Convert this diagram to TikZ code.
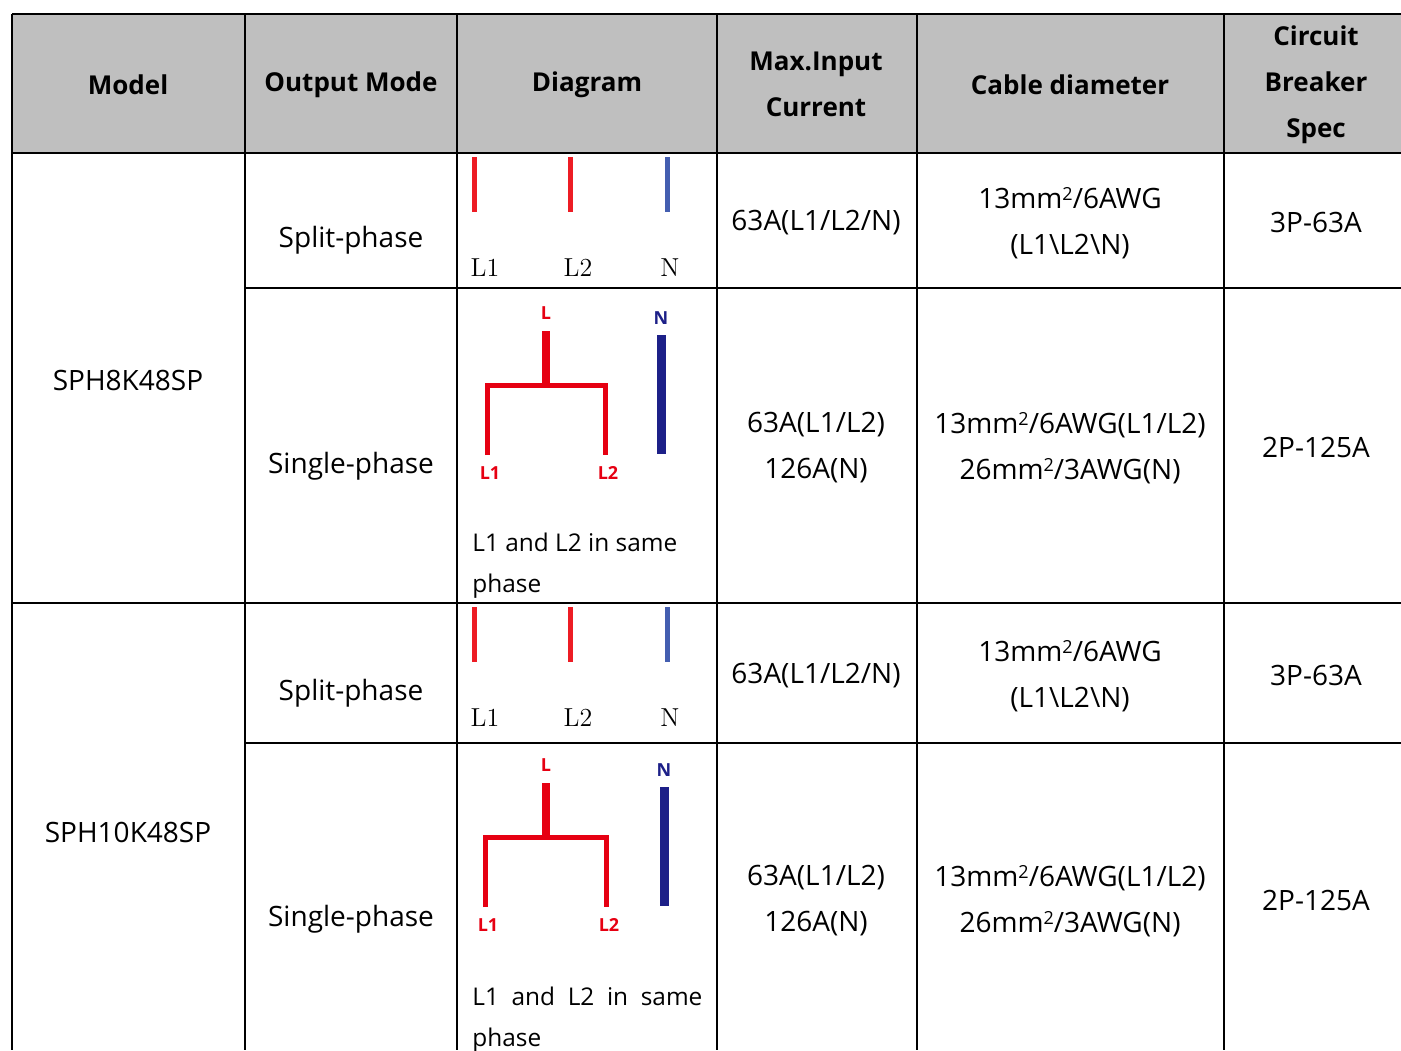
\documentclass[tikz,border=0pt]{standalone}
\usepackage{fontspec}
\setsansfont{Open Sans}
\usetikzlibrary{positioning}

\definecolor{headgray}{RGB}{191,191,191}
\definecolor{barred}{RGB}{237,28,36}
\definecolor{barblue}{RGB}{68,94,176}
\definecolor{wirered}{RGB}{230,0,18}
\definecolor{wirenavy}{RGB}{29,32,136}

\newcommand{\sqr}{\raisebox{0.5ex}{\fontsize{9}{9}\selectfont 2}}

\tikzset{
  cell/.style={font=\sffamily\fontsize{14}{23}\selectfont, align=center, inner sep=0pt},
  head/.style={align=center, inner sep=0pt, font=\sffamily\bfseries\fontsize{13}{23}\selectfont},
  note/.style={anchor=base west, inner sep=0pt, font=\sffamily\fontsize{12.2}{20}\selectfont},
  tag/.style={font=\rmfamily\fontsize{13}{13}\selectfont, inner sep=0pt},
  wiretag/.style={font=\sffamily\bfseries\fontsize{9}{9}\selectfont, inner sep=0pt},
  gridline/.style={black, line width=1pt},
}

\begin{document}
\begin{tikzpicture}[x=0.5pt,y=-0.5pt]
\useasboundingbox (0,0) rectangle (1401,1050);

% header
  \fill[headgray] (12,14) rectangle (1401,153);

% grid
  \foreach \y/\xa in {14/12, 153/12, 288/245, 603/12, 743/245}
    \draw[gridline] (\xa,\y) -- (1401,\y);
  \foreach \x in {12,245,457,717,917,1224}
    \draw[gridline] (\x,14) -- (\x,1050);

% header labels
  \node[head] (hmodel) at (128,85) {Model};
  \node[head] (hmode) at (351,85) {Output Mode};
  \node[head] (hdiag) at (587,85) {Diagram};
  \node[head] (hcur) at (816,84) {Max.Input\\Current};
  \node[head] (hcable) at (1070,85) {Cable diameter};
  \node[head] (hbrk) at (1316,85) {Circuit\\Breaker\\Spec};

% models
  \node[cell] (m8k) at (128,380) {SPH8K48SP};
  \node[cell] (m10k) at (128,832) {SPH10K48SP};

% rows
  \foreach \dy/\r in {0/a, 453/b} {
    \node[cell] (split\r) at (351,240+\dy) {Split-phase};
    \node[cell] (single\r) at (351,466+\dy) {Single-phase};
    \node[cell] (cursplit\r) at (816,223+\dy) {63A(L1/L2/N)};
    \node[cell] (cursingle\r) at (816,448+\dy) {63A(L1/L2)\\126A(N)};
    \node[cell] (cabsplit\r) at (1070,223+\dy) {13mm\sqr/6AWG\\(L1\textbackslash L2\textbackslash N)};
    \node[cell] (cabsingle\r) at (1070,448+\dy) {13mm\sqr/6AWG(L1/L2)\\26mm\sqr/3AWG(N)};
    \node[cell] (brksplit\r) at (1316,222+\dy) {3P-63A};
    \node[cell] (brksingle\r) at (1316,447+\dy) {2P-125A};
  }

% split-phase diagrams
  \foreach \dy/\r in {0/a, 450/b} {
    \draw[barred, line width=2.5pt] (474,157+\dy) -- (474,212+\dy);
    \draw[barred, line width=2.5pt] (570,157+\dy) -- (570,212+\dy);
    \draw[barblue, line width=2.5pt] (667,157+\dy) -- (667,212+\dy);
    \node[tag] (tl1\r) at (485,268+\dy) {L1};
    \node[tag] (tl2\r) at (578,268+\dy) {L2};
    \node[tag] (tn\r) at (670,268+\dy) {N};
  }

% single-phase diagrams
  \foreach \dy/\xl/\xr/\xn/\r in {0/487/605/661/a, 452/485/606/664/b} {
    \node[wiretag, text=wirered] (wl\r) at (546,313+\dy) {L};
    \node[wiretag, text=wirenavy] (wn\r) at (\xn,318+\dy) {N};
    \node[wiretag, text=wirered] (wl1\r) at (\xl+3,473+\dy) {L1};
    \node[wiretag, text=wirered] (wl2\r) at (\xr+3,473+\dy) {L2};
    \coordinate (stem\r) at (546,331+\dy);
    \coordinate (fork\r) at (546,385+\dy);
    \draw[wirered, line width=4pt] (stem\r) -- (fork\r);
    \draw[wirered, line width=2.5pt, miter limit=10] (\xl,455+\dy) -- (\xl,385+\dy) -- (\xr,385+\dy) -- (\xr,455+\dy);
    \draw[wirenavy, line width=4.5pt] (\xn,335+\dy) -- (\xn,454+\dy);
  }

% notes
  \node[note] (notea) at (472,551) {L1 and L2 in same};
  \node[note] (phasea) at (472,592) {phase};
  \node[note] (noteb) at (472,1005) {\makebox[115pt][s]{L1\hfill and\hfill L2\hfill in\hfill same}};
  \node[note] (phaseb) at (472,1046) {phase};

\end{tikzpicture}
\end{document}
